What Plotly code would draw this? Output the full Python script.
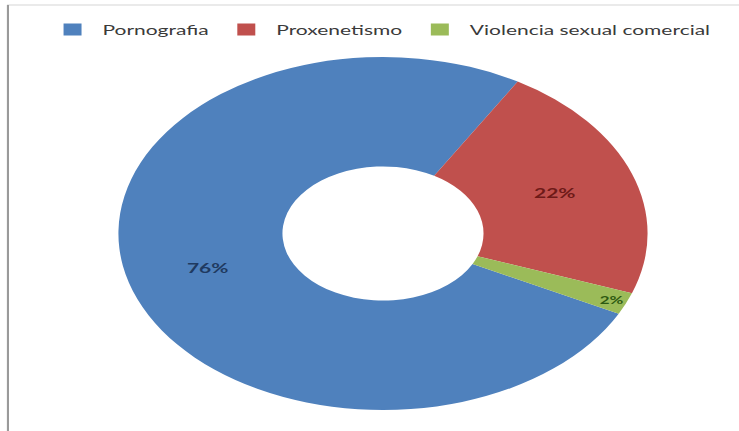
import plotly.graph_objects as go

# data
categorias = ["Pornografia", "Proxenetismo", "Violencia sexual comercial"]
porcentajes = [76, 22, 2]
colores = ["#4F81BD", "#C0504D", "#9BBB59"]
colores_texto = ["#1F3A60", "#6E1A18", "#2E5A12"]

# the reference image is stretched sideways; the figure is drawn narrow and widened in the page
ANCHO_FINAL = 739
ANCHO = 493
ALTO = 431
estirar = ANCHO_FINAL / ANCHO

fig = go.Figure(go.Pie(
    labels=categorias,
    values=porcentajes,
    hole=0.38,
    sort=False,
    direction="clockwise",
    rotation=117,
    marker=dict(colors=colores, line=dict(width=0)),
    textinfo="percent",
    textposition="inside",
    insidetextorientation="horizontal",
    textfont=dict(family="Lato", size=14, color=colores_texto, weight="bold"),
    domain=dict(x=[79 / ANCHO, 432 / ANCHO], y=[21 / ALTO, 374 / ALTO]),
))

fig.update_layout(
    width=ANCHO,
    height=ALTO,
    margin=dict(l=0, r=0, t=0, b=0),
    paper_bgcolor="white",
    plot_bgcolor="white",
    font=dict(family="Lato", color="#404040"),
    legend=dict(
        orientation="h",
        x=0.515,
        xanchor="center",
        y=1 - 30 / ALTO,
        yanchor="middle",
        font=dict(size=14, color="#3a3a3a"),
        itemwidth=30,
        traceorder="normal",
    ),
    shapes=[
        dict(type="line", xref="paper", yref="paper",
             x0=4.7 / ANCHO, x1=1, y0=1 - 5 / ALTO, y1=1 - 5 / ALTO,
             line=dict(color="#d6d6d6", width=1)),
        dict(type="line", xref="paper", yref="paper",
             x0=5.3 / ANCHO, x1=5.3 / ANCHO, y0=0, y1=1 - 5 / ALTO,
             line=dict(color="#9a9a9a", width=1.4)),
    ],
)

ajuste = (
    "document.body.style.margin='0';"
    "var d=document.getElementById('{plot_id}');"
    "d.style.transformOrigin='0 0';"
    "d.style.transform='scaleX(%.4f)';" % estirar
)

fig.write_html("out.html", post_script=ajuste, config={"displayModeBar": False})
